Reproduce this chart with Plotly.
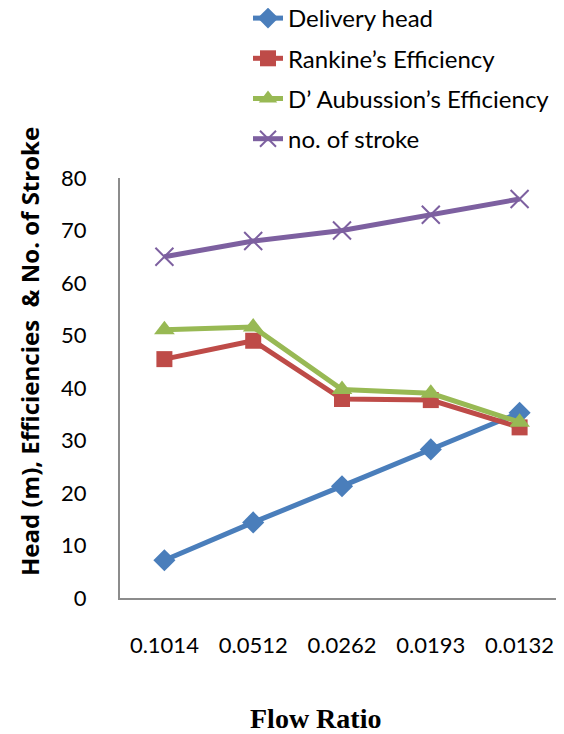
import plotly.graph_objects as go

flow_ratio = ["0.1014", "0.0512", "0.0262", "0.0193", "0.0132"]
delivery_head = [7.2, 14.4, 21.3, 28.3, 35.3]
rankine_eff = [45.5, 49.0, 37.9, 37.7, 32.5]
daubussion_eff = [51.1, 51.6, 39.7, 39.0, 33.5]
no_of_stroke = [65, 68, 70, 73, 76]

y_ticks = [0, 10, 20, 30, 40, 50, 60, 70, 80]

font_main = "Lato, Carlito, Calibri, 'Open Sans', sans-serif"

fig = go.Figure()

series = [
    ("Delivery head", delivery_head, "#4A7EBB", "diamond", 17),
    ("Rankine\u2019s Efficiency", rankine_eff, "#BE4B48", "square", 16),
    ("D\u2019 Aubussion\u2019s Efficiency", daubussion_eff, "#98B954", "triangle-up", 18),
    ("no. of stroke", no_of_stroke, "#7D60A0", "x-thin", 18),
]

for i, (name, vals, color, sym, size) in enumerate(series):
    marker = dict(symbol=sym, size=size, color=color)
    if sym == "x-thin":
        marker["line"] = dict(color=color, width=2)
    fig.add_trace(go.Scatter(
        x=flow_ratio, y=vals, name=name, mode="lines+markers",
        line=dict(color=color, width=5), marker=marker,
        legendgroup=f"g{i}",
    ))

# The page body has an 8px margin; figure coords = page coords - 8.
OFF = 8
PL, PT = 120 - OFF, 178 - OFF   # plot area left/top in figure px
PW, PH = 444, 420

def px_x(px):
    return (px - OFF - PL) / PW

def px_y(py):
    return (PT + PH - (py - OFF)) / PH

fig.update_layout(
    width=564 - OFF, height=734 - OFF,
    margin=dict(l=PL, r=0, t=PT, b=734 - OFF - PT - PH, autoexpand=False),
    paper_bgcolor="white", plot_bgcolor="white",
    font=dict(family=font_main, size=20, color="black"),
    showlegend=True,
    legend=dict(
        xref="paper", yref="paper",
        x=px_x(248), y=px_y(-4), xanchor="left", yanchor="top",
        font=dict(size=24, family=font_main),
        tracegroupgap=6,
        bgcolor="rgba(0,0,0,0)",
    ),
    xaxis=dict(
        type="category", range=[-0.5, 4.5], showgrid=False, zeroline=False,
        showline=True, linecolor="#8C8C8C", linewidth=2,
        ticks="", ticklabelstandoff=27,
        tickfont=dict(size=22), tickangle=0,
    ),
    yaxis=dict(
        range=[0, 80], tickvals=y_ticks, showgrid=False, zeroline=False,
        showline=True, linecolor="#8C8C8C", linewidth=2,
        ticks="", ticklabelstandoff=27,
        tickfont=dict(size=22),
    ),
    annotations=[
        dict(text="<b>Head (m), Efficiencies  &amp; No. of Stroke</b>",
             xref="paper", yref="paper", x=px_x(29), y=px_y(352),
             xanchor="center", yanchor="middle",
             textangle=-90, showarrow=False,
             font=dict(size=24, family="'Open Sans', sans-serif")),
        dict(text="<b>Flow Ratio</b>",
             xref="paper", yref="paper", x=px_x(315), y=px_y(718),
             xanchor="center", yanchor="middle", showarrow=False,
             font=dict(size=28, family="'Liberation Serif', 'Times New Roman', serif")),
    ],
)

fig.write_html("out.html")
